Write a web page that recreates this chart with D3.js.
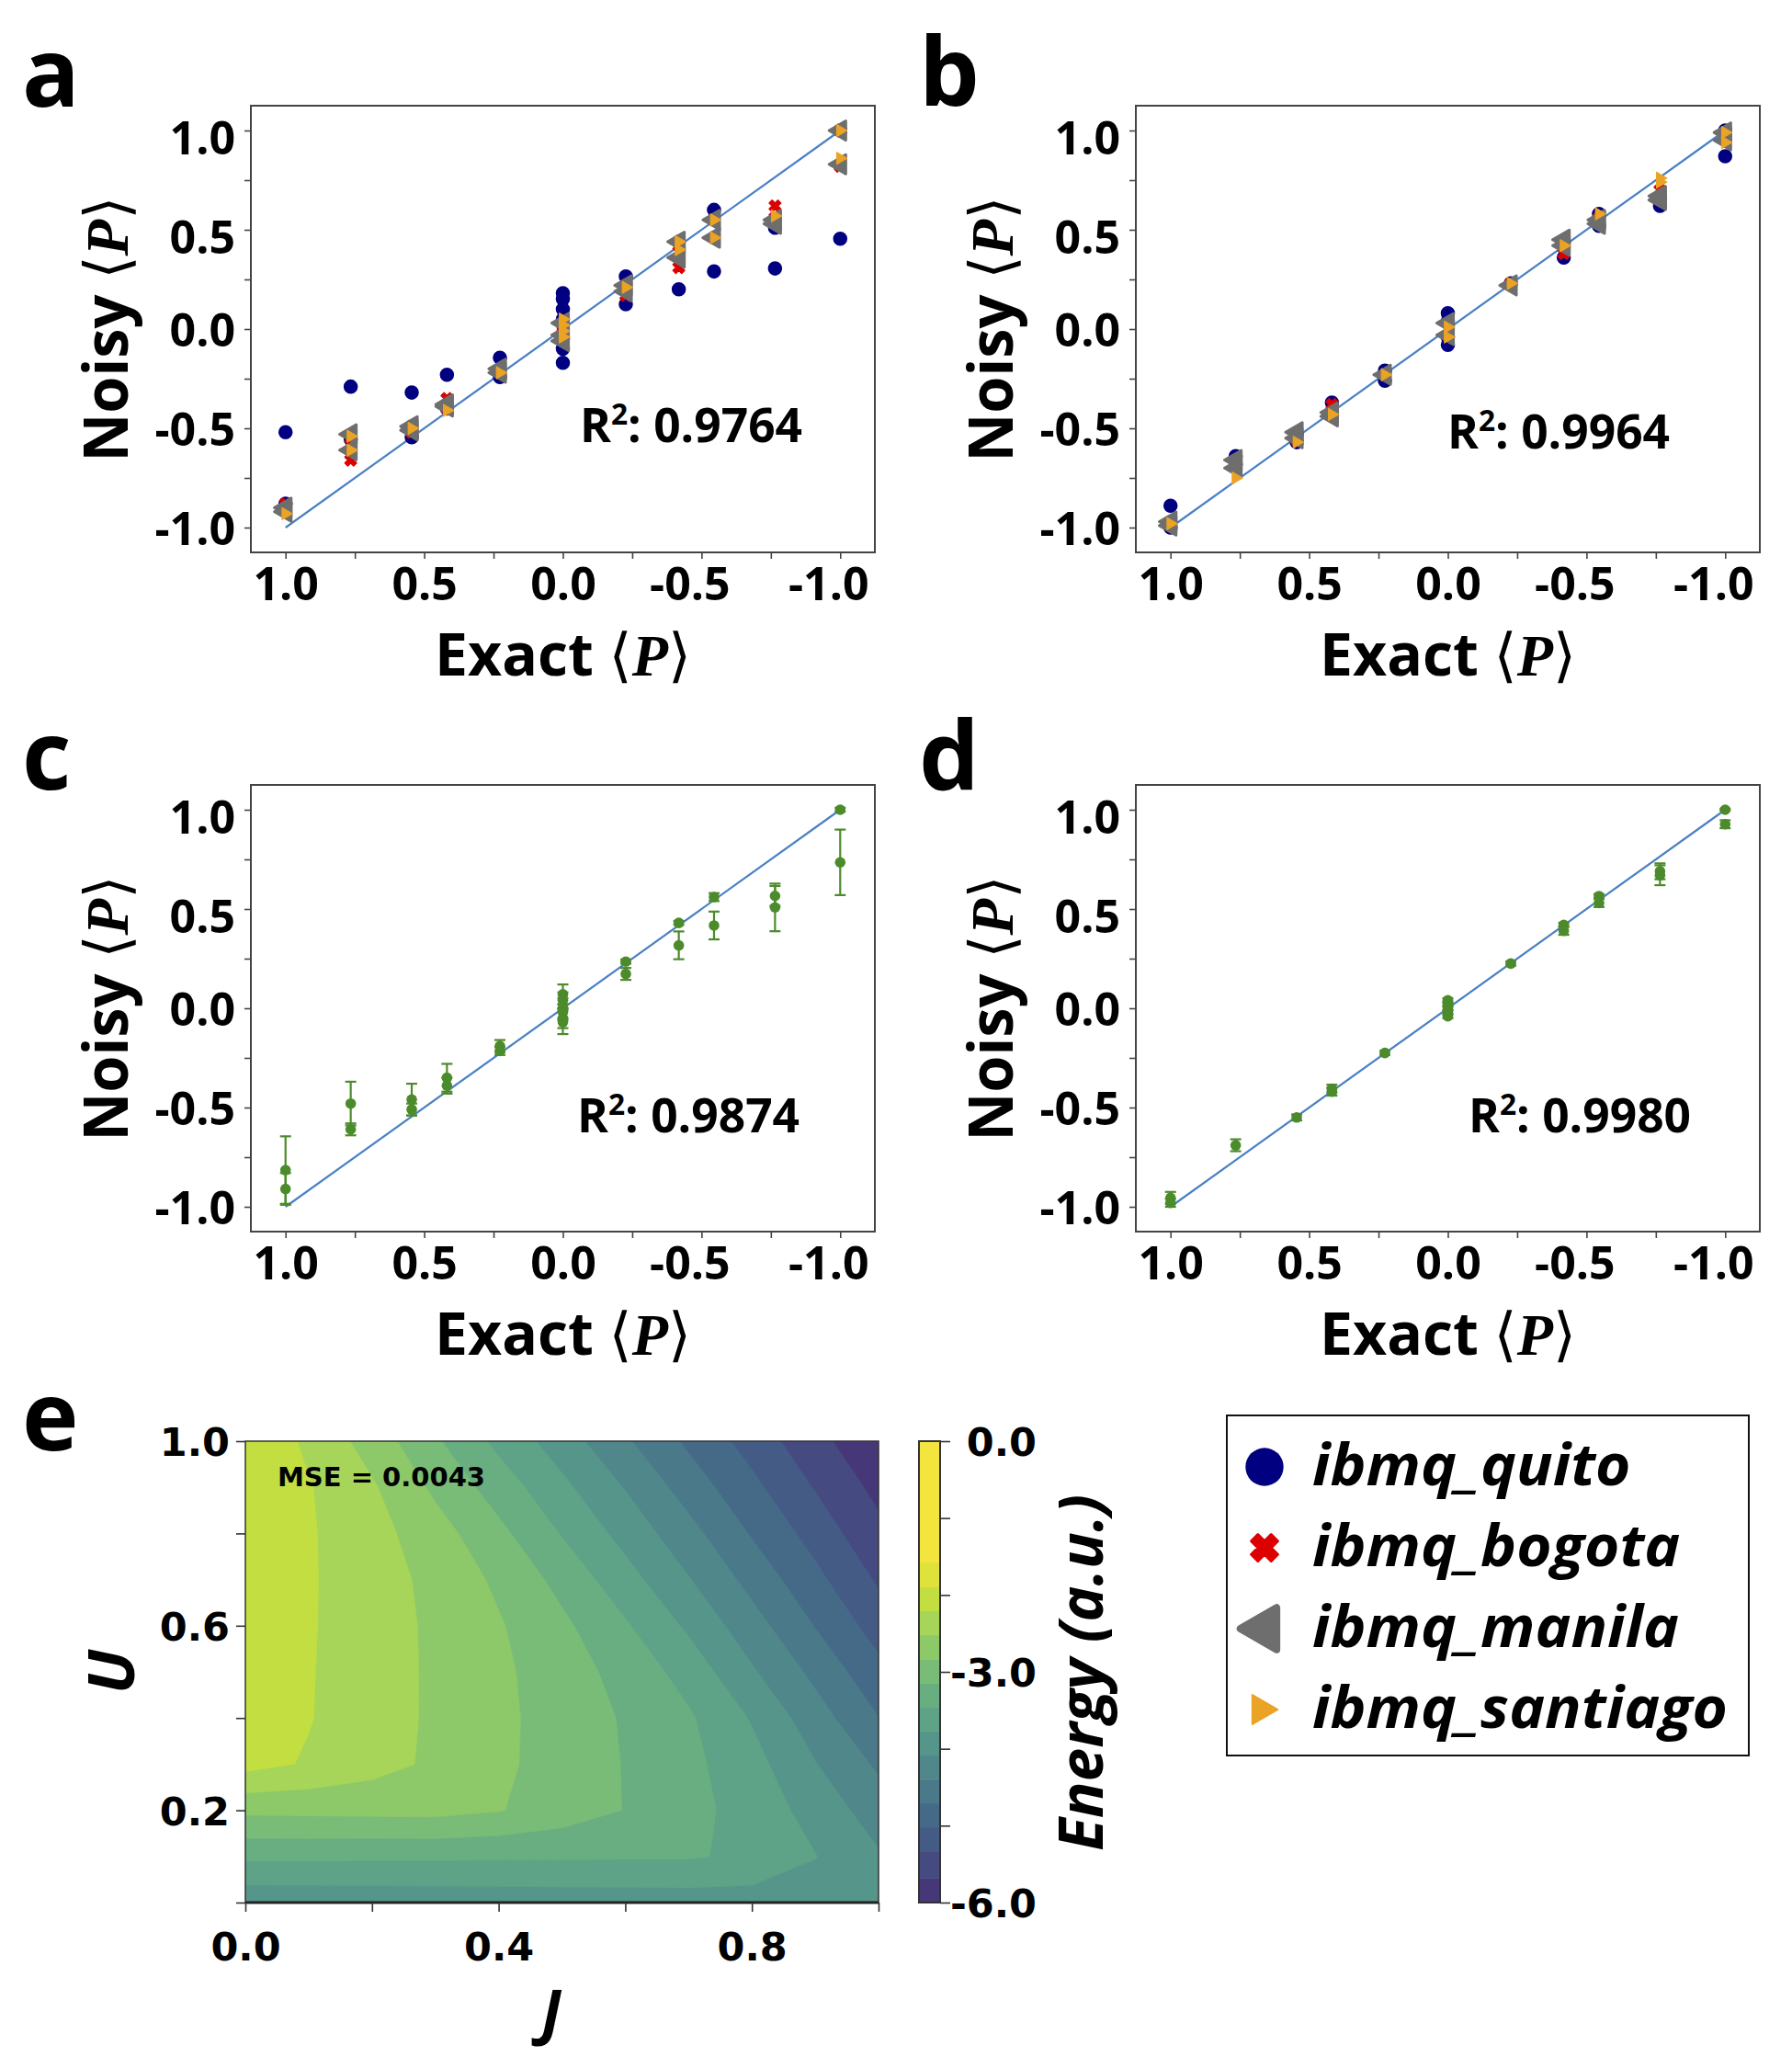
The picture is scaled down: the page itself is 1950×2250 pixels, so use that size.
<!DOCTYPE html>
<html>
<head>
<meta charset="utf-8">
<script src="https://cdn.jsdelivr.net/npm/d3@7"></script>
<style>
  body { margin: 0; background: #fff; }
  svg { display: block; }
</style>
</head>
<body>
<svg id="fig" width="1950" height="2250"></svg>
<script>
// ---------------- data ----------------
// [exact <P>, noisy <P>] pairs, read off panels a and b
const quitoA = [[1.0,-0.52],[1.0,-0.88],[0.765,-0.29],[0.765,-0.555],[0.545,-0.32],[0.545,-0.545],
  [0.418,-0.23],[0.418,-0.40],[0.227,-0.145],[0.227,-0.242],
  [0,0.18],[0,0.15],[0,0.10],[0,0.05],[0,-0.05],[0,-0.10],[0,-0.17],
  [-0.227,0.265],[-0.227,0.125],[-0.418,0.20],[-0.418,0.44],[-0.545,0.29],[-0.545,0.60],
  [-0.765,0.305],[-0.765,0.51],[-1.0,0.455],[-1.0,1.0]];
const bogotaA = [[1.0,-0.88],[1.0,-0.91],[0.765,-0.66],[0.765,-0.55],[0.545,-0.52],[0.545,-0.49],
  [0.418,-0.35],[0.418,-0.40],[0.227,-0.22],[0.227,-0.21],[0,0.02],[0,-0.02],
  [-0.227,0.17],[-0.227,0.22],[-0.418,0.31],[-0.418,0.42],[-0.545,0.55],[-0.545,0.46],
  [-0.765,0.62],[-0.765,0.56],[-1.0,0.82],[-1.0,1.0]];
const manilaA = [[1.0,-0.90],[1.0,-0.92],[0.765,-0.53],[0.765,-0.61],[0.545,-0.49],[0.545,-0.51],
  [0.418,-0.39],[0.418,-0.38],[0.227,-0.22],[0.227,-0.20],[0,0.03],[0,-0.03],[0,-0.06],
  [-0.227,0.22],[-0.227,0.19],[-0.418,0.44],[-0.418,0.36],[-0.545,0.55],[-0.545,0.46],
  [-0.765,0.55],[-0.765,0.53],[-1.0,1.0],[-1.0,0.83]];
const santiagoA = [[1.0,-0.93],[0.765,-0.54],[0.765,-0.61],[0.545,-0.50],[0.418,-0.41],[0.227,-0.22],
  [0,0.05],[0,0.02],[0,-0.01],[0,-0.04],[-0.227,0.21],[-0.418,0.44],[-0.418,0.40],
  [-0.545,0.55],[-0.545,0.46],[-0.765,0.57],[-1.0,1.0],[-1.0,0.86]];

const quitoB = [[1.0,-0.89],[1.0,-1.0],[0.765,-0.64],[0.765,-0.68],[0.545,-0.57],[0.545,-0.53],
  [0.418,-0.37],[0.418,-0.42],[0.227,-0.21],[0.227,-0.26],[0,0.08],[0,0.04],[0,-0.04],[0,-0.08],
  [-0.227,0.23],[-0.418,0.36],[-0.418,0.44],[-0.545,0.58],[-0.545,0.52],[-0.765,0.62],[-0.765,0.66],
  [-1.0,0.87],[-1.0,1.0]];
const bogotaB = [[1.0,-0.98],[0.765,-0.67],[0.545,-0.56],[0.418,-0.38],[0.227,-0.23],[0,0.0],
  [-0.227,0.23],[-0.418,0.38],[-0.545,0.56],[-0.765,0.70],[-1.0,0.98]];
const manilaB = [[1.0,-0.97],[1.0,-0.99],[0.765,-0.66],[0.765,-0.70],[0.545,-0.52],[0.545,-0.55],
  [0.418,-0.44],[0.418,-0.42],[0.227,-0.23],[0,0.03],[0,-0.03],[-0.227,0.22],[-0.418,0.45],
  [-0.418,0.42],[-0.545,0.53],[-0.545,0.55],[-0.765,0.65],[-0.765,0.67],[-1.0,0.99],[-1.0,0.95]];
const santiagoB = [[1.0,-0.98],[0.765,-0.75],[0.545,-0.57],[0.418,-0.43],[0.227,-0.23],[0,0.01],
  [0,-0.04],[-0.227,0.23],[-0.418,0.42],[-0.545,0.58],[-0.765,0.76],[-0.765,0.74],[-1.0,0.99],[-1.0,0.94]];

// [exact, mean noisy, error] for panels c and d
const meanC = [[1.0,-0.815,0.17],[1.0,-0.91,0.08],[0.765,-0.48,0.11],[0.765,-0.61,0.03],
  [0.545,-0.46,0.08],[0.545,-0.51,0.03],[0.418,-0.35,0.07],[0.418,-0.39,0.04],
  [0.227,-0.19,0.03],[0.227,-0.215,0.02],
  [0,0.07,0.05],[0,0.04,0.04],[0,0.0,0.05],[0,-0.02,0.04],[0,-0.05,0.05],[0,-0.07,0.06],
  [-0.227,0.235,0.01],[-0.227,0.173,0.03],[-0.418,0.43,0.01],[-0.418,0.317,0.07],
  [-0.545,0.56,0.02],[-0.545,0.417,0.07],[-0.765,0.566,0.05],[-0.765,0.508,0.12],
  [-1.0,1.0,0.01],[-1.0,0.735,0.165]];
const meanD = [[1.0,-0.955,0.03],[1.0,-0.98,0.02],[0.765,-0.69,0.03],[0.545,-0.55,0.015],
  [0.418,-0.405,0.02],[0.418,-0.42,0.02],[0.227,-0.225,0.01],
  [0,0.04,0.01],[0,0.02,0.01],[0,0.0,0.01],[0,-0.02,0.01],[0,-0.04,0.01],
  [-0.227,0.225,0.01],[-0.418,0.42,0.01],[-0.418,0.39,0.02],[-0.545,0.565,0.01],[-0.545,0.53,0.02],
  [-0.765,0.69,0.04],[-0.765,0.67,0.05],[-1.0,1.0,0.005],[-1.0,0.927,0.02]];

const r2Values = ['0.9764', '0.9964', '0.9874', '0.9980'];
const pTicks = [-1, -0.75, -0.5, -0.25, 0, 0.25, 0.5, 0.75, 1];
const deviceNames = ['ibmq_quito', 'ibmq_bogota', 'ibmq_manila', 'ibmq_santiago'];

// panel e: energy on a J x U grid (rows listed from U = 1.0 down to U = 0.0)
const gridJ = [0, 0.1, 0.2, 0.3, 0.4, 0.5, 0.6, 0.7, 0.8, 0.9, 1.0];
const gridU = [1.0, 0.9, 0.8, 0.7, 0.6, 0.5, 0.4, 0.3, 0.2, 0.1, 0.0];
const energy = [
  [-1.95, -2.265, -2.656, -3.105, -3.54, -3.93, -4.355, -4.764, -5.146, -5.56, -5.99],
  [-2.00, -2.186, -2.48, -2.90, -3.294, -3.696, -4.10, -4.538, -4.94, -5.358, -5.775],
  [-2.02, -2.175, -2.403, -2.703, -3.07, -3.48, -3.876, -4.294, -4.734, -5.142, -5.59],
  [-2.04, -2.177, -2.373, -2.607, -2.896, -3.248, -3.649, -4.067, -4.504, -4.934, -5.38],
  [-2.05, -2.18, -2.369, -2.579, -2.807, -3.085, -3.424, -3.825, -4.273, -4.72, -5.16],
  [-2.06, -2.187, -2.373, -2.572, -2.774, -3.003, -3.258, -3.581, -4.047, -4.48, -4.926],
  [-2.07, -2.192, -2.377, -2.571, -2.767, -2.97, -3.181, -3.419, -3.796, -4.262, -4.70],
  [-2.10, -2.237, -2.402, -2.577, -2.774, -2.969, -3.165, -3.379, -3.658, -4.071, -4.45],
  [-2.77, -2.76, -2.75, -2.74, -2.82, -2.985, -3.16, -3.36, -3.59, -3.885, -4.245],
  [-3.40, -3.40, -3.41, -3.41, -3.42, -3.42, -3.43, -3.43, -3.52, -3.76, -4.05],
  [-4.00, -3.99, -3.98, -3.97, -3.96, -3.95, -3.94, -3.93, -3.92, -3.92, -3.92]
];
const levels = [-5.68, -5.337, -5.02, -4.707, -4.40, -4.085, -3.77, -3.46, -3.15, -2.837, -2.52, -2.207, -1.894, -1.577];
const energyRange = [-6, 0];
const mseText = 'MSE = 0.0043';

// band colours, lowest band first
const bandColors = ['#463778', '#454a80', '#445b85', '#456a88', '#4a7989', '#4f878b', '#56958a',
  '#5ea287', '#69ae80', '#79bc77', '#8dc869', '#a6d559', '#c3de40', '#dfe23a', '#f4e43e'];

// ---------------- drawing ----------------
const svg = d3.select('#fig');
const SANS = "'Open Sans', 'DejaVu Sans', sans-serif";
const DV = "'DejaVu Sans', sans-serif";
const SERIF = "'Liberation Serif', 'DejaVu Serif', serif";
const PW = 679, PH = 486;
const lineBlue = '#4a80c4';
const green = '#4c8b2b';

const fmt = d => Math.abs(d % 0.5) < 1e-9 ? (d < 0 ? '-' : '') + Math.abs(d).toFixed(1) : '';

function fitWidth(sel, w) {
  sel.attr('textLength', w).attr('lengthAdjust', 'spacingAndGlyphs');
}

function symbolPath(shape, size) {
  const t = shape === 'circle' ? d3.symbolCircle : shape === 'x' ? d3.symbolCross : d3.symbolTriangle;
  return d3.symbol(t, size)();
}
function symbolRot(shape) {
  return shape === 'x' ? 45 : shape === 'left' ? -90 : shape === 'right' ? 90 : 0;
}

function angleLabel(sel, word) {
  sel.append('tspan').text(word + ' ');
  sel.append('tspan').attr('font-family', DV).attr('font-weight', 400).text('\u27E8');
  sel.append('tspan').attr('font-family', SERIF)
    .attr('font-style', 'italic').attr('font-weight', 700).text('P');
  sel.append('tspan').attr('font-family', DV).attr('font-weight', 400).text('\u27E9');
}

function scatterPanel(p) {
  const g = svg.append('g').attr('transform', `translate(${p.x},${p.y})`);
  const x = d3.scaleLinear().domain([1.125, -1.125]).range([0, PW]);
  const y = d3.scaleLinear().domain([-1.125, 1.125]).range([PH, 0]);

  g.append('line')
    .attr('x1', x(1)).attr('y1', y(-1)).attr('x2', x(-1)).attr('y2', y(1))
    .attr('stroke', lineBlue).attr('stroke-width', 2.2);

  if (p.series) {
    p.series.forEach(s => {
      g.append('g').selectAll('path').data(s.data).join('path')
        .attr('d', symbolPath(s.shape, s.size))
        .attr('transform', d => `translate(${x(d[0])},${y(d[1])}) rotate(${symbolRot(s.shape)})`)
        .attr('fill', s.color)
        .attr('stroke', s.color).attr('stroke-width', s.round).attr('stroke-linejoin', 'round');
    });
  }
  if (p.errors) {
    const eb = g.append('g').attr('stroke', green).attr('stroke-width', 2.2);
    p.errors.forEach(d => {
      const cx = x(d[0]);
      eb.append('line').attr('x1', cx).attr('x2', cx).attr('y1', y(d[1] - d[2])).attr('y2', y(d[1] + d[2]));
      eb.append('line').attr('x1', cx - 6).attr('x2', cx + 6).attr('y1', y(d[1] - d[2])).attr('y2', y(d[1] - d[2]));
      eb.append('line').attr('x1', cx - 6).attr('x2', cx + 6).attr('y1', y(d[1] + d[2])).attr('y2', y(d[1] + d[2]));
    });
    g.append('g').selectAll('circle').data(p.errors).join('circle')
      .attr('cx', d => x(d[0])).attr('cy', d => y(d[1])).attr('r', 5.8).attr('fill', green);
  }

  const xa = g.append('g').attr('transform', `translate(0,${PH})`)
    .call(d3.axisBottom(x).tickValues(pTicks).tickSize(7).tickFormat(fmt));
  const ya = g.append('g')
    .call(d3.axisLeft(y).tickValues(pTicks).tickSize(7).tickFormat(fmt));
  [xa, ya].forEach(a => {
    a.select('.domain').remove();
    a.selectAll('line').attr('stroke', '#444').attr('stroke-width', 1.6);
    a.selectAll('text').attr('fill', '#000')
      .style('font-family', SANS).style('font-size', '50px').style('font-weight', 700);
  });
  xa.selectAll('text').attr('y', 52).attr('dy', null).attr('dx', d => d < 0 ? -13 : 0);
  ya.selectAll('text').attr('x', -17).attr('dy', d => d > 0 ? '0.5em' : '0.36em');

  g.append('rect').attr('width', PW).attr('height', PH)
    .attr('fill', 'none').attr('stroke', '#444').attr('stroke-width', 2);

  // axis titles
  const xt = g.append('text').attr('x', PW / 2).attr('y', PH + 134).attr('text-anchor', 'middle')
    .attr('font-family', SANS).attr('font-weight', 700).attr('font-size', 64);
  angleLabel(xt, 'Exact');
  fitWidth(xt, 279);
  const yt = g.append('text').attr('transform', `translate(-134,${PH / 2}) rotate(-90)`)
    .attr('text-anchor', 'middle')
    .attr('font-family', SANS).attr('font-weight', 700).attr('font-size', 66);
  angleLabel(yt, 'Noisy');
  fitWidth(yt, 289);

  // R^2
  const rt = g.append('text').attr('x', p.r2x).attr('y', p.r2y)
    .attr('font-family', SANS).attr('font-weight', 700).attr('font-size', 52);
  rt.append('tspan').text('R');
  rt.append('tspan').attr('font-size', 32).attr('dy', -19).text('2');
  rt.append('tspan').attr('dy', 19).text(': ' + p.r2);
  fitWidth(rt, 242);

  svg.append('text').attr('x', p.lx).attr('y', p.ly)
    .attr('font-family', SANS).attr('font-weight', 700).attr('font-size', 104).text(p.letter);
}

const devSeries = (q, b, m, s) => [
  { data: q, shape: 'circle', color: '#000080', size: 190, round: 0 },
  { data: b, shape: 'x', color: '#dd0000', size: 100, round: 1.5 },
  { data: m, shape: 'left', color: '#6e6e6e', size: 190, round: 3 },
  { data: s, shape: 'right', color: '#eba325', size: 78, round: 1 }
];

scatterPanel({ letter: 'a', x: 273, y: 115, lx: 24, ly: 116, r2: r2Values[0], r2x: 358, r2y: 366,
  series: devSeries(quitoA, bogotaA, manilaA, santiagoA) });
scatterPanel({ letter: 'b', x: 1236, y: 115, lx: 1000, ly: 115, r2: r2Values[1], r2x: 339, r2y: 373,
  series: devSeries(quitoB, bogotaB, manilaB, santiagoB) });
scatterPanel({ letter: 'c', x: 273, y: 854, lx: 24, ly: 859, r2: r2Values[2], r2x: 355, r2y: 378,
  errors: meanC });
scatterPanel({ letter: 'd', x: 1236, y: 854, lx: 1000, ly: 859, r2: r2Values[3], r2x: 362, r2y: 378,
  errors: meanD });

// ---------------- panel e: contour map ----------------
const ex = d3.scaleLinear().domain([0, 1]).range([267, 956]);
const ey = d3.scaleLinear().domain([0, 1]).range([2070, 1568]);
const rowsUp = energy.slice().reverse();            // row 0 = U 0.0
const uUp = gridU.slice().reverse();
const stepJ = gridJ[1] - gridJ[0], stepU = uUp[1] - uUp[0];
const flat = rowsUp.flat();
const bands = d3.contours().size([gridJ.length, uUp.length]).thresholds(levels)(flat);
const proj = d3.geoTransform({
  point(px, py) {
    this.stream.point(ex(gridJ[0] + (px - 0.5) * stepJ), ey(uUp[0] + (py - 0.5) * stepU));
  }
});
const cpath = d3.geoPath(proj);

svg.append('clipPath').attr('id', 'mapclip').append('rect')
  .attr('x', ex(0)).attr('y', ey(1)).attr('width', ex(1) - ex(0)).attr('height', ey(0) - ey(1));
const mg = svg.append('g').attr('clip-path', 'url(#mapclip)');
mg.append('rect').attr('x', ex(0)).attr('y', ey(1)).attr('width', ex(1) - ex(0)).attr('height', ey(0) - ey(1))
  .attr('fill', bandColors[0]);
mg.selectAll('path').data(bands).join('path')
  .attr('d', cpath)
  .attr('fill', (d, i) => bandColors[i + 1])
  .attr('stroke', (d, i) => bandColors[i + 1]).attr('stroke-width', 0.6);

svg.append('rect').attr('x', ex(0)).attr('y', ey(1)).attr('width', ex(1) - ex(0)).attr('height', ey(0) - ey(1))
  .attr('fill', 'none').attr('stroke', '#333').attr('stroke-width', 1.5);
svg.append('line').attr('x1', ex(0)).attr('x2', ex(1)).attr('y1', ey(0)).attr('y2', ey(0))
  .attr('stroke', '#222').attr('stroke-width', 3);

const jTicks = [0, 0.2, 0.4, 0.6, 0.8, 1.0];
const jLab = [0, 0.4, 0.8], uLab = [0.2, 0.6, 1.0];
const ea = svg.append('g').attr('transform', `translate(0,${ey(0)})`)
  .call(d3.axisBottom(ex).tickValues(jTicks).tickSize(10)
    .tickFormat(d => jLab.some(v => Math.abs(v - d) < 1e-9) ? d.toFixed(1) : ''));
const ua = svg.append('g').attr('transform', `translate(${ex(0)},0)`)
  .call(d3.axisLeft(ey).tickValues(jTicks).tickSize(10)
    .tickFormat(d => uLab.some(v => Math.abs(v - d) < 1e-9) ? d.toFixed(1) : ''));
[ea, ua].forEach(a => {
  a.select('.domain').remove();
  a.selectAll('line').attr('stroke', '#333').attr('stroke-width', 1.6);
  a.selectAll('text').attr('fill', '#000')
    .style('font-family', DV).style('font-size', '43px').style('font-weight', 700);
});
ea.selectAll('text').attr('y', 63).attr('dy', null);
ua.selectAll('text').attr('x', -17).attr('dy', '0.36em');

svg.append('text').attr('x', 302).attr('y', 1617)
  .attr('font-family', DV).attr('font-weight', 700).attr('font-size', 28)
  .text(mseText).call(fitWidth, 226);

svg.append('text').attr('x', 600).attr('y', 2213).attr('text-anchor', 'middle')
  .attr('font-family', SANS).attr('font-weight', 700).attr('font-style', 'italic').attr('font-size', 66)
  .text('J');
svg.append('text').attr('transform', 'translate(146,1819) rotate(-90)').attr('text-anchor', 'middle')
  .attr('font-family', SANS).attr('font-weight', 700).attr('font-style', 'italic').attr('font-size', 70)
  .text('U');

// colorbar
const cb = d3.scaleLinear().domain(energyRange).range([2070, 1568]);
const cbEdges = [energyRange[0], ...levels, energyRange[1]];
const cbx = 1000, cbw = 23;
svg.append('g').selectAll('rect').data(d3.pairs(cbEdges)).join('rect')
  .attr('x', cbx).attr('width', cbw)
  .attr('y', d => cb(d[1])).attr('height', d => cb(d[0]) - cb(d[1]) + 0.5)
  .attr('fill', (d, i) => bandColors[i]);
svg.append('rect').attr('x', cbx).attr('y', cb(0)).attr('width', cbw).attr('height', cb(-6) - cb(0))
  .attr('fill', 'none').attr('stroke', '#333').attr('stroke-width', 2);
const ca = svg.append('g').attr('transform', `translate(${cbx + cbw},0)`)
  .call(d3.axisRight(cb).tickValues(d3.range(-6, 0.5, 1)).tickSize(11)
    .tickFormat(d => d % 3 === 0 ? (d < 0 ? '-' : '') + Math.abs(d).toFixed(1) : ''));
ca.select('.domain').remove();
ca.selectAll('line').attr('stroke', '#333').attr('stroke-width', 1.6);
ca.selectAll('text').attr('fill', '#000').attr('x', 105).attr('text-anchor', 'end').attr('dy', '0.36em')
  .style('font-family', DV).style('font-size', '43px').style('font-weight', 700);

svg.append('text').attr('transform', 'translate(1200,1820) rotate(-90)').attr('text-anchor', 'middle')
  .attr('font-family', SANS).attr('font-weight', 700).attr('font-style', 'italic').attr('font-size', 66)
  .text('Energy (a.u.)').call(fitWidth, 388);

svg.append('text').attr('x', 24).attr('y', 1578)
  .attr('font-family', SANS).attr('font-weight', 700).attr('font-size', 104).text('e');

// ---------------- legend ----------------
const legendMarks = [
  { shape: 'circle', color: '#000080', size: 1346, dx: 0, round: 0 },
  { shape: 'x', color: '#dd0000', size: 520, dx: 0, round: 3 },
  { shape: 'left', color: '#6e6e6e', size: 900, dx: 0, round: 8 },
  { shape: 'right', color: '#eba325', size: 440, dx: -4, round: 2 }
];
const lg = svg.append('g');
lg.append('rect').attr('x', 1335).attr('y', 1540).attr('width', 568).attr('height', 370)
  .attr('fill', '#fff').attr('stroke', '#111').attr('stroke-width', 2);
const items = lg.selectAll('g.item').data(deviceNames).join('g').attr('class', 'item')
  .attr('transform', (d, i) => `translate(0,${1616 + i * 88})`);
items.append('path')
  .attr('d', (d, i) => symbolPath(legendMarks[i].shape, legendMarks[i].size))
  .attr('transform', (d, i) => `translate(${1376 + legendMarks[i].dx},-20) rotate(${symbolRot(legendMarks[i].shape)})`)
  .attr('fill', (d, i) => legendMarks[i].color)
  .attr('stroke', (d, i) => legendMarks[i].color)
  .attr('stroke-width', (d, i) => legendMarks[i].round).attr('stroke-linejoin', 'round');
const lt = items.append('text').attr('x', 1428).attr('y', 0)
  .attr('font-family', SANS).attr('font-weight', 700).attr('font-style', 'italic').attr('font-size', 62)
  .text(d => d);
const natural = lt.nodes()[3].getComputedTextLength();
const k = 452 / natural;
lt.each(function () { d3.select(this).call(fitWidth, this.getComputedTextLength() * k); });
</script>
</body>
</html>
